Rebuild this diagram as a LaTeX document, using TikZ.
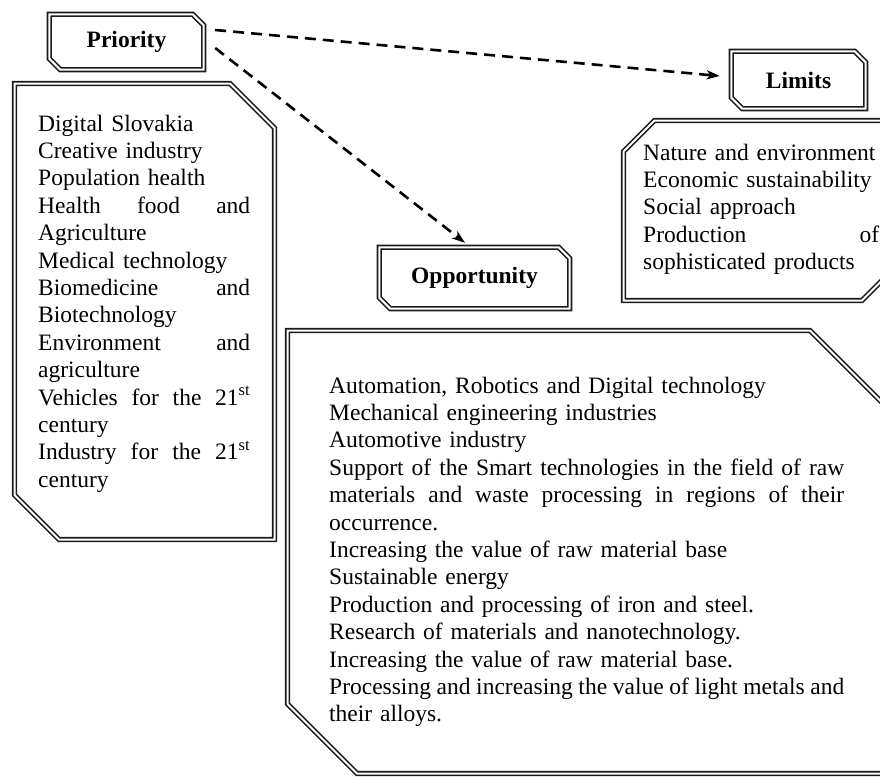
\documentclass[tikz,border=0pt]{standalone}
\usepackage{fontspec}
\setmainfont{Liberation Serif}
\usetikzlibrary{arrows.meta,calc}
\tikzset{
  dbl/.style={draw=black!90, line width=1.6pt, double=white, double distance=2pt, line join=miter},
  lbl/.style={font=\fontsize{23.5}{27.4}\selectfont\bfseries, inner sep=0pt},
  listtxt/.style={font=\fontsize{23.5}{27.4}\selectfont, align=left, inner sep=0pt, anchor=base west},
  conn/.style={draw=black, line width=2.6pt, dash pattern=on 11pt off 7pt,
    -{Stealth[length=13pt,width=9pt,inset=3.5pt]}},
}
\hyphenpenalty=10000
\begin{document}
\begin{tikzpicture}[x=1pt,y=-1pt]
\useasboundingbox (0,0) rectangle (880,776);
\clip (0,0) rectangle (880,776);

% title boxes
\node[lbl, minimum width=154pt, minimum height=55pt] (prio) at (126.5,42) {Priority};
\node[lbl, minimum width=134pt, minimum height=57pt] (lim) at (798.5,80) {Limits};
\node[lbl, minimum width=190pt, minimum height=61pt] (opp) at (474.5,278) {Opportunity};

\draw[dbl] (prio.north west) -- ([shift={(-11,0)}]prio.north east) -- ([shift={(0,11)}]prio.north east)
  -- (prio.south east) -- ([shift={(11,0)}]prio.south west) -- ([shift={(0,-11)}]prio.south west) -- cycle;
\draw[dbl] (lim.north west) -- ([shift={(-11,0)}]lim.north east) -- ([shift={(0,11)}]lim.north east)
  -- (lim.south east) -- ([shift={(11,0)}]lim.south west) -- ([shift={(0,-11)}]lim.south west) -- cycle;
\draw[dbl] (opp.north west) -- ([shift={(-11,0)}]opp.north east) -- ([shift={(0,11)}]opp.north east)
  -- (opp.south east) -- ([shift={(11,0)}]opp.south west) -- ([shift={(0,-11)}]opp.south west) -- cycle;

% list boxes
\draw[dbl] (14.5,83.5) -- (230,83.5) -- (274.5,128) -- (274.5,539.5) -- (59,539.5) -- (14.5,495) -- cycle;
\draw[dbl] (654.5,120.5) -- (900,120.5) -- (900,262.5) -- (862,300.5) -- (623.5,300.5) -- (623.5,151.5) -- cycle;
\draw[dbl] (287.5,330.5) -- (810,330.5) -- (960,480.5) -- (960,773.5) -- (357,773.5) -- (287.5,704) -- cycle;

% list texts
\node[listtxt, text width=212pt] (plist) at (38,131) {%
Digital Slovakia\\
Creative industry\\
Population health\\
Health\hfill food\hfill and\\
Agriculture\\
Medical technology\\
Biomedicine\hfill and\\
Biotechnology\\
Environment\hfill and\\
agriculture\\
Vehicles\hfill for\hfill the\hfill 21\textsuperscript{st}\\
century\\
Industry\hfill for\hfill the\hfill 21\textsuperscript{st}\\
century};

\node[listtxt, text width=236pt] (llist) at (643,160) {%
\mbox{Nature and environment}\\
\mbox{Economic sustainability}\\
Social approach\\
Production\hfill of\\
sophisticated products};

\node[listtxt, text width=515pt] (olist) at (329,393) {%
Automation, Robotics and Digital technology\\
Mechanical engineering industries\\
Automotive industry\\
Support\hfill of\hfill the\hfill Smart\hfill technologies\hfill in\hfill the\hfill field\hfill of\hfill raw\\
materials\hfill and\hfill waste\hfill processing\hfill in\hfill regions\hfill of\hfill their\\
occurrence.\\
Increasing the value of raw material base\\
Sustainable energy\\
Production and processing of iron and steel.\\
Research of materials and nanotechnology.\\
Increasing the value of raw material base.\\
Processing\hfill and\hfill increasing\hfill the\hfill value\hfill of\hfill light\hfill metals\hfill and\\
their alloys.};

% connectors
\draw[conn] ([shift={(11.5,-12)}]prio.east) -- ([shift={(-11.5,-4)}]lim.west);
\draw[conn] ([shift={(11.5,6)}]prio.east) -- ([shift={(-9.5,-4.5)}]opp.north);
\end{tikzpicture}
\end{document}
